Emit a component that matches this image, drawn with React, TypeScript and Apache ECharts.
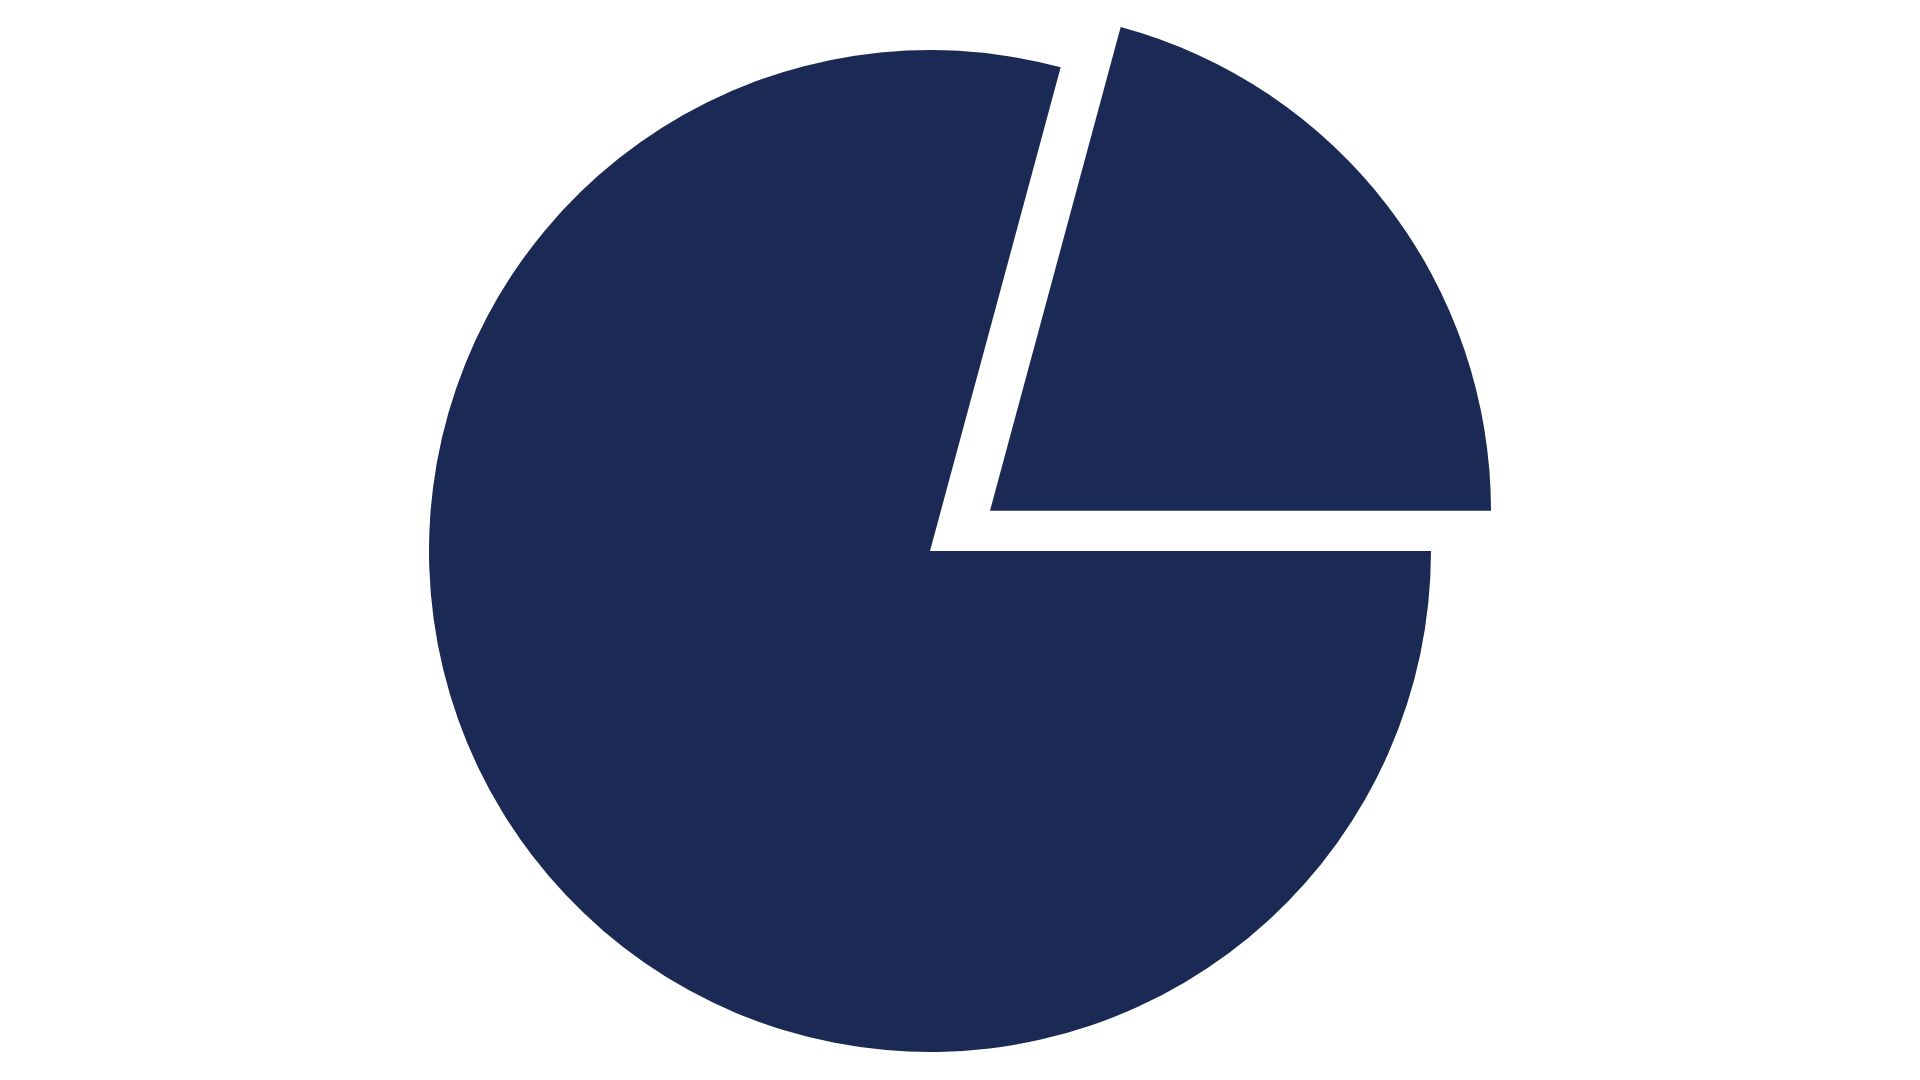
import { useEffect, useRef } from "react";
import * as echarts from "echarts";

const categories = ["Part A", "Part B"];
const values = [20.8, 79.2];
const explodedIndex = 0;

const NAVY = "#1b2a55";

export default function App() {
  const ref = useRef<HTMLDivElement | null>(null);

  useEffect(() => {
    if (!ref.current) return;
    const chart = echarts.init(ref.current, undefined, { renderer: "svg" });

    // one series draws the pulled-out slice, the other the rest of the pie
    const makeData = (showExploded: boolean) =>
      categories.map((name, i) => {
        const visible = (i === explodedIndex) === showExploded;
        return {
          name,
          value: values[i],
          itemStyle: { color: visible ? NAVY : "rgba(0,0,0,0)" }
        };
      });

    // first slice ends exactly on the horizontal
    const start = (values[0] / values.reduce((a, b) => a + b, 0)) * 360;

    const base = {
      type: "pie" as const,
      radius: 501,
      startAngle: start,
      clockwise: true,
      silent: true,
      label: { show: false },
      labelLine: { show: false },
      emphasis: { disabled: true },
      itemStyle: { borderWidth: 0 }
    };

    const option: echarts.EChartsOption = {
      animation: false,
      backgroundColor: "#ffffff",
      series: [
        { ...base, name: "rest", center: [930, 551], data: makeData(false) },
        { ...base, name: "exploded", center: [990, 510.7], data: makeData(true) }
      ]
    };

    chart.setOption(option);
    return () => {
      chart.dispose();
    };
  }, []);

  return (
    <div
      ref={ref}
      style={{ position: "absolute", left: 0, top: 0, width: 1920, height: 1080 }}
    />
  );
}
